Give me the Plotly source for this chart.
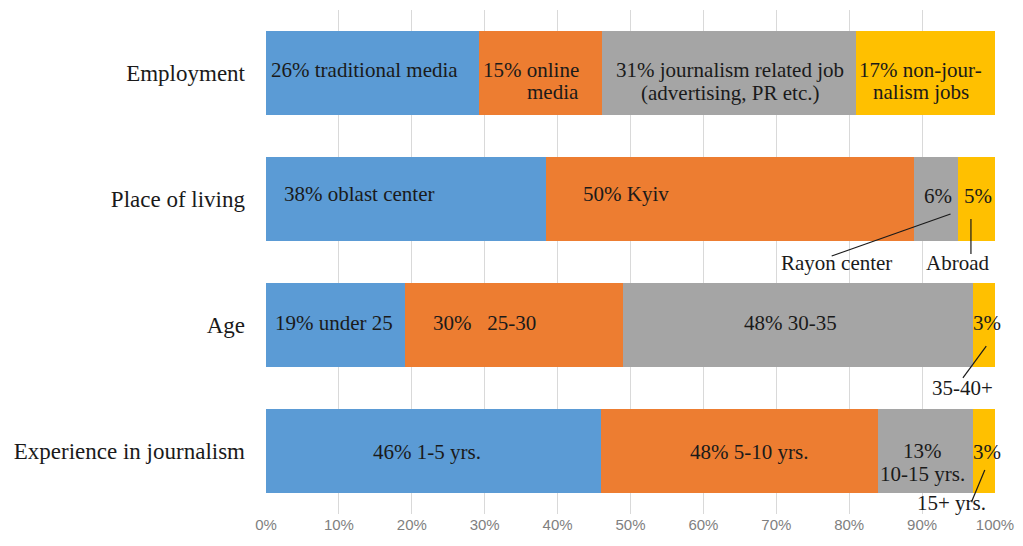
import plotly.graph_objects as go

# categories (top to bottom)
categories = ["Employment", "Place of living", "Age", "Experience in journalism"]

# segment values as drawn (each row is normalised to 100%)
seg1 = [26, 38, 19, 46]
seg2 = [15, 50, 30, 38]
seg3 = [31, 6, 48, 13]
seg4 = [17, 5, 3, 3]

colors = ["#5B9BD5", "#ED7D31", "#A5A5A5", "#FFC000"]
x_ticks = list(range(0, 101, 10))
x_ticktext = [f"{v}%" for v in x_ticks]

SERIF = "Times New Roman, Liberation Serif, serif"

# text labels: (category, x in %, vertical offset in px from bar centre, text, anchor)
labels = [
    ("Employment", 13.5, -3, "26% traditional media", "center"),
    ("Employment", 43.2, -3, "15% online", "right"),
    ("Employment", 43.2, 19, "media", "right"),
    ("Employment", 63.7, -3, "31% journalism related job", "center"),
    ("Employment", 63.7, 20, "(advertising, PR etc.)", "center"),
    ("Employment", 89.8, -3, "17% non-jour-", "center"),
    ("Employment", 89.8, 19, "nalism jobs", "center"),
    ("Place of living", 12.8, -5, "38% oblast center", "center"),
    ("Place of living", 49.4, -5, "50% Kyiv", "center"),
    ("Place of living", 92.2, -3, "6%", "center"),
    ("Place of living", 97.7, -3, "5%", "center"),
    ("Place of living", 78.2, 64, "Rayon center", "center"),
    ("Place of living", 94.8, 64, "Abroad", "center"),
    ("Age", 9.3, -2, "19% under 25", "center"),
    ("Age", 30.0, -2, "30%\u00a0\u00a0 25-30", "center"),
    ("Age", 71.9, -2, "48% 30-35", "center"),
    ("Age", 98.9, -2, "3%", "center"),
    ("Age", 95.5, 63, "35-40+", "center"),
    ("Experience in journalism", 22.1, 1, "46% 1-5 yrs.", "center"),
    ("Experience in journalism", 66.3, 1, "48% 5-10 yrs.", "center"),
    ("Experience in journalism", 90.0, 0, "13%", "center"),
    ("Experience in journalism", 90.1, 23, "10-15 yrs.", "center"),
    ("Experience in journalism", 98.9, 1, "3%", "center"),
    ("Experience in journalism", 94.1, 52, "15+ yrs.", "center"),
]

# leader lines: (x0, y0, x1, y1) with y as category index
leaders = [
    (77.6, 1.452, 93.9, 1.119),
    (96.7, 1.159, 96.7, 1.437),
    (98.8, 2.167, 95.6, 2.42),
    (98.6, 3.15, 96.8, 3.40),
]

fig = go.Figure()
for vals, color in zip([seg1, seg2, seg3, seg4], colors):
    fig.add_trace(go.Bar(
        y=categories, x=vals, orientation="h",
        marker=dict(color=color, line=dict(width=0)),
        hoverinfo="skip", showlegend=False,
    ))

for cat, xv, dy, text, anchor in labels:
    fig.add_annotation(
        x=xv, y=cat, xref="x", yref="y", text=text, showarrow=False,
        xanchor=anchor, yanchor="middle", yshift=-dy,
        font=dict(family=SERIF, size=21, color="#1a1a1a"),
    )

for x0, y0, x1, y1 in leaders:
    fig.add_shape(type="line", xref="x", yref="y", x0=x0, y0=y0, x1=x1, y1=y1,
                  line=dict(color="#1a1a1a", width=1.2))

# page body adds an 8px offset, margins compensate for it
fig.update_layout(
    width=1023, height=546,
    barmode="stack", barnorm="percent", bargap=0.33,
    paper_bgcolor="white", plot_bgcolor="white",
    margin=dict(l=258, r=36, t=2, b=40),
)
fig.update_xaxes(
    range=[0, 100], tickvals=x_ticks, ticktext=x_ticktext,
    showgrid=True, gridcolor="#D9D9D9", gridwidth=1, zeroline=False,
    showline=False, ticks="", ticklabelstandoff=0,
    tickfont=dict(family="Liberation Sans", size=15, color="#7F7F7F"),
)
fig.update_yaxes(
    categoryorder="array", categoryarray=categories, autorange="reversed",
    showgrid=False, zeroline=False, showline=False, ticks="",
    ticklabelstandoff=20,
    tickfont=dict(family=SERIF, size=23, color="#1a1a1a"),
)

fig.write_html("out.html")
